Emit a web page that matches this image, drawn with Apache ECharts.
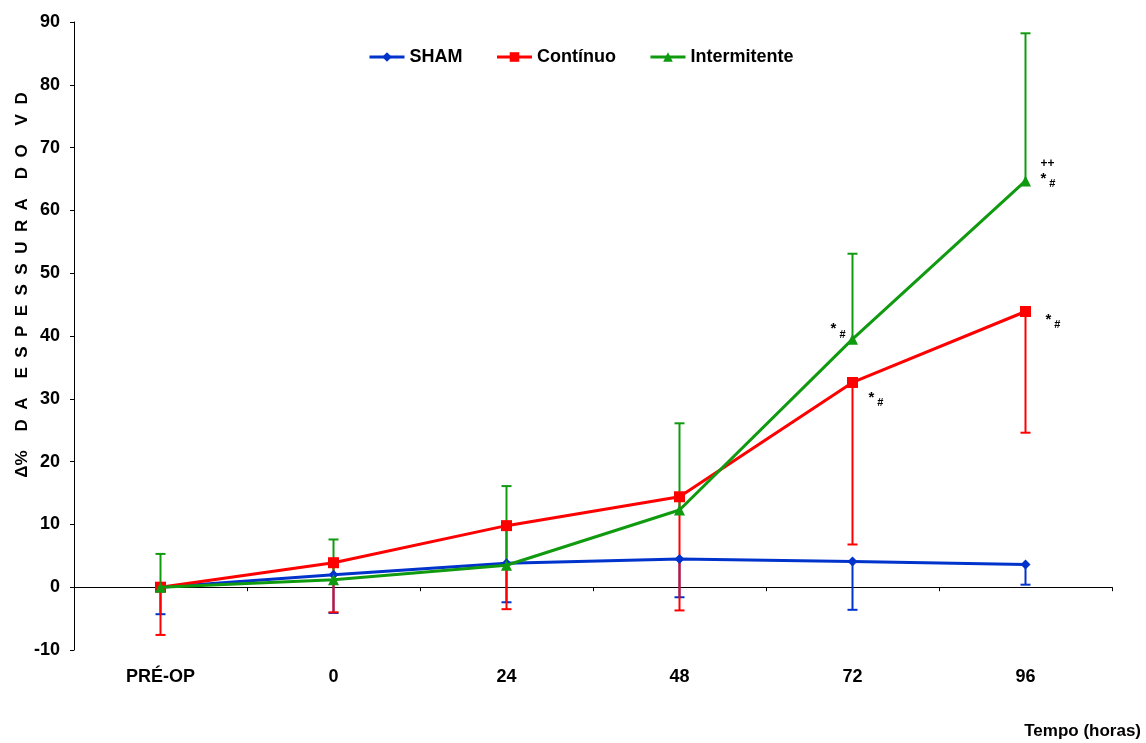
<!DOCTYPE html>
<html>
<head>
<meta charset="utf-8">
<script src="https://cdn.jsdelivr.net/npm/echarts@6/dist/echarts.min.js"></script>
<style>
  html, body { margin: 0; padding: 0; background: #fff; }
  #chart { width: 1146px; height: 743px; }
</style>
</head>
<body>
<div id="chart"></div>
<script>
// categorias (tempo)
var categorias = ['PRÉ-OP', '0', '24', '48', '72', '96'];
// médias por grupo
var sham = [0, 2.0, 3.8, 4.5, 4.1, 3.6];
var continuo = [0, 3.9, 9.8, 14.4, 32.6, 43.9];
var intermitente = [0, 1.2, 3.5, 12.3, 39.5, 64.7];
// extremos das barras de erro (unilaterais)
var shamInf = [-4.3, -4.1, -2.4, -1.6, -3.6, 0.4];
var continuoInf = [-7.6, -4.0, -3.5, -3.7, 6.8, 24.6];
var intermitenteSup = [5.3, 7.6, 16.1, 26.1, 53.1, 88.2];

var azul = '#0033cc', vermelho = '#ff0000', verde = '#109a10';
var fonte = 'Liberation Sans, Arial, sans-serif';

function barraErro(nome, medias, extremos, cor) {
    var dados = medias.map(function (v, i) { return [i, v, extremos[i]]; });
    return {
        name: nome + ' (erro)',
        type: 'custom',
        z: 1,
        silent: true,
        itemStyle: { color: cor },
        data: dados,
        renderItem: function (params, api) {
            var p0 = api.coord([api.value(0), api.value(1)]);
            var p1 = api.coord([api.value(0), api.value(2)]);
            var estilo = { stroke: cor, lineWidth: 2 };
            return {
                type: 'group',
                children: [
                    { type: 'line', shape: { x1: p0[0], y1: p0[1], x2: p1[0], y2: p1[1] }, style: estilo },
                    { type: 'line', shape: { x1: p1[0] - 5, y1: p1[1], x2: p1[0] + 5, y2: p1[1] }, style: estilo }
                ]
            };
        }
    };
}

var richAnot = {
    a: { fontSize: 15, fontWeight: 'bold', color: '#000', fontFamily: fonte, padding: [0, 0, 4, 0] },
    b: { fontSize: 11, fontWeight: 'bold', color: '#000', fontFamily: fonte, padding: [7, 0, 0, 3] },
    p: { fontSize: 12, fontWeight: 'bold', color: '#000', fontFamily: fonte, lineHeight: 16 }
};

function anot(i, serie, pos, dist, off, texto) {
    return {
        coord: [i, serie[i]],
        symbolSize: 0,
        label: { show: true, position: pos, distance: dist, offset: off, formatter: texto, rich: richAnot }
    };
}

var chart = echarts.init(document.getElementById('chart'));
chart.setOption({
    animation: false,
    backgroundColor: '#fff',
    grid: { left: 74, right: 34, top: 22, bottom: 93, outerBoundsMode: 'none' },
    legend: {
        top: 48,
        left: 368,
        padding: 0,
        itemWidth: 35,
        itemHeight: 12,
        itemGap: 33,
        lineStyle: { width: 3 },
        textStyle: { fontSize: 18, fontWeight: 'bold', color: '#000', fontFamily: fonte },
        data: ['SHAM', 'Contínuo', 'Intermitente']
    },
    xAxis: {
        type: 'category',
        data: categorias,
        axisLine: { onZero: true, lineStyle: { color: '#000', width: 1 } },
        axisTick: { show: true, length: 4, lineStyle: { color: '#000' } },
        axisLabel: { margin: 18, fontSize: 18, fontWeight: 'bold', color: '#000', fontFamily: fonte }
    },
    yAxis: {
        type: 'value',
        min: -10,
        max: 90,
        interval: 10,
        axisLine: { show: true, lineStyle: { color: '#000', width: 1 } },
        axisTick: { show: true, length: 4, lineStyle: { color: '#000' } },
        splitLine: { show: false },
        axisLabel: { margin: 14, fontSize: 18, fontWeight: 'bold', color: '#000', fontFamily: fonte }
    },
    graphic: [
        {
            type: 'text',
            x: 22, y: 285,
            rotation: Math.PI / 2,
            style: {
                text: 'Δ%    D  A    E  S  P  E  S  S  U  R  A    D  O    V  D',
                fontSize: 17, fontWeight: 'bold', fill: '#000', fontFamily: fonte,
                align: 'center', verticalAlign: 'middle'
            }
        },
        {
            type: 'text',
            right: 5, top: 723,
            style: { text: 'Tempo (horas)', fontSize: 17, fontWeight: 'bold', fill: '#000', fontFamily: fonte }
        }
    ],
    series: [
        barraErro('SHAM', sham, shamInf, azul),
        barraErro('Contínuo', continuo, continuoInf, vermelho),
        barraErro('Intermitente', intermitente, intermitenteSup, verde),
        {
            name: 'SHAM', type: 'line', data: sham, z: 3,
            symbol: 'diamond', symbolSize: 10,
            itemStyle: { color: azul }, lineStyle: { color: azul, width: 3 }
        },
        {
            name: 'Contínuo', type: 'line', data: continuo, z: 4,
            symbol: 'rect', symbolSize: 11,
            itemStyle: { color: vermelho }, lineStyle: { color: vermelho, width: 3 },
            markPoint: {
                silent: true,
                data: [
                    anot(4, continuo, 'right', 16, [0, 17], '{a|*}{b|#}'),
                    anot(5, continuo, 'right', 20, [0, 10], '{a|*}{b|#}')
                ]
            }
        },
        {
            name: 'Intermitente', type: 'line', data: intermitente, z: 5,
            symbol: 'triangle', symbolSize: 11,
            itemStyle: { color: verde }, lineStyle: { color: verde, width: 3 },
            markPoint: {
                silent: true,
                data: [
                    anot(4, intermitente, 'left', 7, [0, -8], '{a|*}{b|#}'),
                    anot(5, intermitente, 'right', 15, [0, -8], '{p|++}\n{a|*}{b|#}')
                ]
            }
        }
    ]
});
</script>
</body>
</html>
